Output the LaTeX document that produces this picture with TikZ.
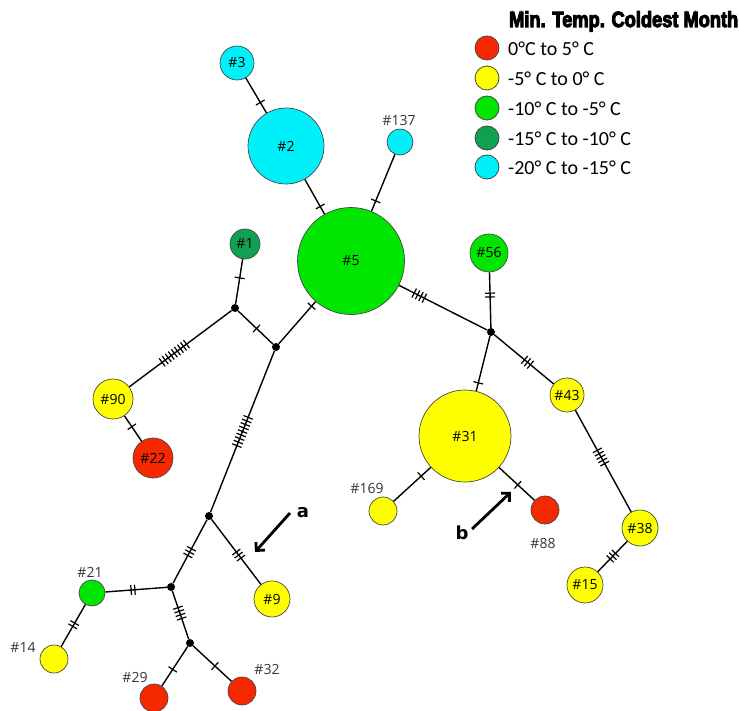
\documentclass[tikz,border=0pt]{standalone}
\usepackage{fontspec}
\usepackage{graphicx}
\setmainfont{Open Sans}
\newfontfamily\legendfont{Carlito}
\newfontfamily\heavyfont{Liberation Sans Bold}[FakeBold=5]
\newfontfamily\tagfont{DejaVu Sans Bold}
\usetikzlibrary{arrows.meta,decorations.markings}

\definecolor{tred}{RGB}{245,40,0}
\definecolor{tyellow}{RGB}{255,255,0}
\definecolor{tgreen}{RGB}{0,230,0}
\definecolor{tdgreen}{RGB}{16,160,82}
\definecolor{tcyan}{RGB}{0,240,250}
\definecolor{rim}{RGB}{70,70,70}

\tikzset{
  hap/.style={circle, draw=rim, line width=0.7pt, inner sep=0pt,
              minimum size={2*#1}, font=\fontsize{14}{16}\selectfont},
  jn/.style={circle, fill=black, inner sep=0pt, minimum size=8pt},
  lbl/.style={text=black!80, font=\fontsize{14}{16}\selectfont},
  edge/.style={line width=1.4pt, black},
  tick/.style={line width=1.2pt, black},
  % n mutation ticks centred at relative position p along an edge
  mut/.style 2 args={postaction={decorate, decoration={markings,
      mark=at position #2 with {\foreach \k in {1,...,#1}{
        \draw[tick] ({(\k-(#1+1)/2)*3.8pt},-5pt) -- ++(0,10pt);}}}}},
  pointer/.style={line width=2.8pt, -{Straight Barb[length=6pt,width=12pt]}},
  tag/.style={font=\tagfont\fontsize{18}{20}\selectfont},
  key/.style={circle, draw=rim, line width=0.8pt, inner sep=0pt, minimum size=24pt},
  keytext/.style={anchor=base west, inner sep=0pt, font=\legendfont\fontsize{20}{22}\selectfont}
}

\begin{document}
\begin{tikzpicture}[x=1pt,y=-1pt]
\useasboundingbox (0,0) rectangle (739,711);

% haplotype circles
\node[hap=17, fill=tcyan]    (n3)   at (237,63)  {\#3};
\node[hap=38, fill=tcyan]    (n2)   at (286,146) {\#2};
\node[hap=13, fill=tcyan]    (n137) at (400,142) {};
\node[hap=53.5, fill=tgreen] (n5)   at (351,261) {\#5};
\node[hap=15, fill=tdgreen]  (n1)   at (245,244) {\#1};
\node[hap=20, fill=tyellow]  (n90)  at (113,399) {\#90};
\node[hap=20, fill=tred]     (n22)  at (153,458) {\#22};
\node[hap=19, fill=tgreen]   (n56)  at (489,253) {\#56};
\node[hap=17, fill=tyellow]  (n43)  at (567,395) {\#43};
\node[hap=46, fill=tyellow]  (n31)  at (465,436) {\#31};
\node[hap=14, fill=tyellow]  (n169) at (383,511) {};
\node[hap=14, fill=tred]     (n88)  at (545,510) {};
\node[hap=18, fill=tyellow]  (n38)  at (640,528) {\#38};
\node[hap=18, fill=tyellow]  (n15)  at (585,585) {\#15};
\node[hap=18, fill=tyellow]  (n9)   at (272,599) {\#9};
\node[hap=13, fill=tgreen]   (n21)  at (92,593)  {};
\node[hap=14, fill=tyellow]  (n14)  at (54,659)  {};
\node[hap=14, fill=tred]     (n29)  at (154,698) {};
\node[hap=14, fill=tred]     (n32)  at (242,691) {};

% median vectors
\node[jn] (j1) at (235,308) {};
\node[jn] (j2) at (276,347) {};
\node[jn] (j3) at (491,332) {};
\node[jn] (j4) at (209,516) {};
\node[jn] (j5) at (171,587) {};
\node[jn] (j6) at (190,643) {};

% outside labels
\node[lbl] (l137) at (399,121) {\#137};
\node[lbl] (l169) at (367,488) {\#169};
\node[lbl] (l88)  at (543,543) {\#88};
\node[lbl] (l21)  at (90,572)  {\#21};
\node[lbl] (l14)  at (23,647)  {\#14};
\node[lbl] (l29)  at (135,677) {\#29};
\node[lbl] (l32)  at (267,669) {\#32};

% network edges with mutation ticks
\draw[edge, mut={1}{0.70}] (n3) -- (n2);
\draw[edge, mut={1}{0.78}] (n2) -- (n5);
\draw[edge, mut={1}{0.82}] (n137) -- (n5);
\draw[edge, mut={1}{0.11}] (n5) -- (j2);
\draw[edge, mut={1}{0.53}] (j1) -- (j2);
\draw[edge, mut={1}{0.42}] (n1) -- (j1);
\draw[edge, mut={9}{0.44}] (n90) -- (j1);
\draw[edge, mut={1}{0.43}] (n90) -- (n22);
\draw[edge, mut={9}{0.50}] (j2) -- (j4);
\draw[edge, mut={4}{0.23}] (n5) -- (j3);
\draw[edge, mut={2}{0.41}] (n56) -- (j3);
\draw[edge, mut={1}{0.85}] (j3) -- (n31);
\draw[edge, mut={3}{0.56}] (j3) -- (n43);
\draw[edge, mut={5}{0.46}] (n43) -- (n38);
\draw[edge, mut={3}{0.49}] (n38) -- (n15);
\draw[edge, mut={1}{0.26}] (n31) -- (n169);
\draw[edge, mut={1}{0.53}] (n31) -- (n88);
\draw[edge, mut={3}{0.51}] (j4) -- (j5);
\draw[edge, mut={3}{0.55}] (j4) -- (n9);
\draw[edge, mut={2}{0.45}] (n21) -- (j5);
\draw[edge, mut={2}{0.48}] (n21) -- (n14);
\draw[edge, mut={4}{0.46}] (j5) -- (j6);
\draw[edge, mut={1}{0.58}] (j6) -- (n29);
\draw[edge, mut={1}{0.57}] (j6) -- (n32);

% pointers
\coordinate (aS) at (290,513);
\coordinate (aE) at (255,552);
\draw[pointer] (aS) -- (aE);
\node[tag] (ta) at (303,513) {a};
\coordinate (bS) at (472,529);
\coordinate (bE) at (511,492);
\draw[pointer] (bS) -- (bE);
\node[tag] (tb) at (462,533) {b};

% legend
\node[anchor=base west, inner sep=0pt] (ktitle) at (509,27)
  {\resizebox{229pt}{\height}{\heavyfont\fontsize{22}{24}\selectfont Min. Temp. Coldest Month}};
\node[key, fill=tred]    (k1) at (487,48)  {};
\node[key, fill=tyellow] (k2) at (487,78)  {};
\node[key, fill=tgreen]  (k3) at (487,108) {};
\node[key, fill=tdgreen] (k4) at (487,138) {};
\node[key, fill=tcyan]   (k5) at (487,167) {};
\node[keytext] (t1) at (508,56)  {0°C to 5° C};
\node[keytext] (t2) at (508,86)  {-5° C to 0° C};
\node[keytext] (t3) at (508,116) {-10° C to -5° C};
\node[keytext] (t4) at (508,146) {-15° C to -10° C};
\node[keytext] (t5) at (508,175) {-20° C to -15° C};
\end{tikzpicture}
\end{document}
